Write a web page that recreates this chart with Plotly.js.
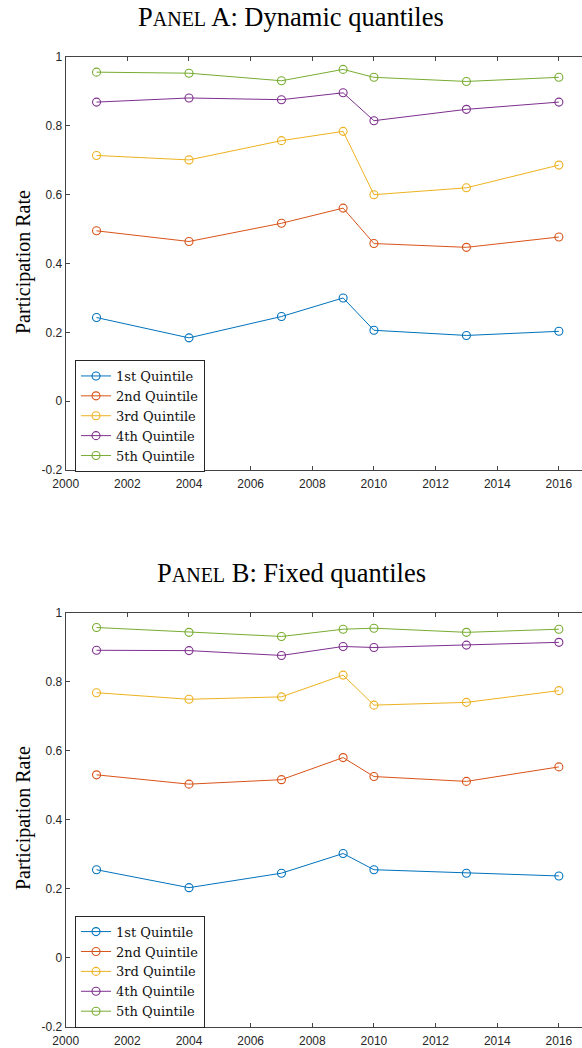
<!DOCTYPE html>
<html>
<head>
<meta charset="utf-8">
<script src="https://cdn.plot.ly/plotly-3.0.1.min.js"></script>
<style>html,body{margin:0;padding:0;background:#fff;}#chart{width:582px;height:1048px;}</style>
</head>
<body>
<div id="chart"></div>
<script>
const years = [2001, 2004, 2007, 2009, 2010, 2013, 2016];
const seriesNames = ["1st Quintile", "2nd Quintile", "3rd Quintile", "4th Quintile", "5th Quintile"];
const colors = ["#0072BD", "#D95319", "#EDB120", "#7E2F8E", "#77AC30"];

// Panel A: Dynamic quantiles
const dynQ1 = [0.243, 0.184, 0.246, 0.300, 0.206, 0.191, 0.203];
const dynQ2 = [0.495, 0.464, 0.517, 0.561, 0.458, 0.447, 0.477];
const dynQ3 = [0.714, 0.701, 0.757, 0.784, 0.600, 0.620, 0.686];
const dynQ4 = [0.869, 0.881, 0.876, 0.896, 0.815, 0.848, 0.869];
const dynQ5 = [0.956, 0.953, 0.931, 0.964, 0.941, 0.929, 0.941];

// Panel B: Fixed quantiles
const fixQ1 = [0.255, 0.203, 0.245, 0.302, 0.255, 0.245, 0.237];
const fixQ2 = [0.530, 0.503, 0.516, 0.580, 0.525, 0.511, 0.553];
const fixQ3 = [0.768, 0.749, 0.756, 0.819, 0.732, 0.740, 0.774];
const fixQ4 = [0.891, 0.890, 0.876, 0.902, 0.899, 0.906, 0.914];
const fixQ5 = [0.957, 0.943, 0.931, 0.952, 0.955, 0.943, 0.952];

const yTickVals = [-0.2, 0, 0.2, 0.4, 0.6, 0.8, 1];
const yTickText = ["-0.2", "0", "0.2", "0.4", "0.6", "0.8", "1"];
const xTickVals = [2000, 2002, 2004, 2006, 2008, 2010, 2012, 2014, 2016];

const dynamic = [dynQ1, dynQ2, dynQ3, dynQ4, dynQ5];
const fixed = [fixQ1, fixQ2, fixQ3, fixQ4, fixQ5];

const traces = [];
function addPanel(data, xa, ya, legend) {
  data.forEach((vals, i) => {
    traces.push({
      x: years, y: vals, xaxis: xa, yaxis: ya, legend: legend,
      type: "scatter", mode: "lines+markers", name: seriesNames[i],
      line: {color: colors[i], width: 1},
      marker: {symbol: "circle-open", size: 8, color: colors[i], line: {width: 1.1, color: colors[i]}}
    });
  });
}
addPanel(dynamic, "x", "y", "legend");
addPanel(fixed, "x2", "y2", "legend2");

const axisColor = "#444444";
const tickFont = {family: "Liberation Sans, Arial, sans-serif", size: 12, color: "#262626"};
function xAxis(anchor) {
  return {
    anchor: anchor, domain: [0.1129, 1.0], range: [2000, 2016.75],
    tickvals: xTickVals, ticks: "inside", ticklen: 4, tickcolor: axisColor,
    showline: true, linecolor: axisColor, linewidth: 1, mirror: "allticks",
    showgrid: false, zeroline: false, tickfont: tickFont, ticklabelstandoff: 3
  };
}
function yAxis(anchor, dom) {
  return {
    anchor: anchor, domain: dom, range: [-0.2, 1],
    tickvals: yTickVals, ticktext: yTickText, ticks: "inside", ticklen: 4, tickcolor: axisColor,
    showline: true, linecolor: axisColor, linewidth: 1, mirror: false,
    showgrid: false, zeroline: false, tickfont: tickFont
  };
}
const serif = "Liberation Serif, serif";
const legendStyle = (y) => ({
  x: 0.1289, y: y, xanchor: "left", yanchor: "top",
  bgcolor: "#ffffff", bordercolor: "#262626", borderwidth: 1,
  font: {family: "DejaVu Serif, serif", size: 13, color: "#111"}, tracegroupgap: 0
});

const layout = {
  width: 582, height: 1048,
  margin: {l: 0, r: 0, t: 0, b: 0},
  paper_bgcolor: "#ffffff", plot_bgcolor: "#ffffff",
  showlegend: true,
  xaxis: xAxis("y"),
  yaxis: yAxis("x", [0.5515, 0.9456]),
  xaxis2: xAxis("y2"),
  yaxis2: yAxis("x2", [0.0203, 0.4154]),
  legend: legendStyle(0.6565),
  legend2: legendStyle(0.1263),
  annotations: [
    {text: "P<span style=\"font-size:20px\">ANEL</span> A: Dynamic quantiles", x: 0.5, y: 0.9838, xref: "paper", yref: "paper",
     xanchor: "center", yanchor: "middle", showarrow: false, font: {family: serif, size: 26.5, color: "#000"}},
    {text: "P<span style=\"font-size:20px\">ANEL</span> B: Fixed quantiles", x: 0.5, y: 0.4532, xref: "paper", yref: "paper",
     xanchor: "center", yanchor: "middle", showarrow: false, font: {family: serif, size: 26.5, color: "#000"}},
    {text: "Participation Rate", x: 23/582, y: 1 - 262/1048, xref: "paper", yref: "paper",
     xanchor: "center", yanchor: "middle", textangle: -90, showarrow: false, font: {family: serif, size: 20, color: "#000"}},
    {text: "Participation Rate", x: 23/582, y: 1 - 818/1048, xref: "paper", yref: "paper",
     xanchor: "center", yanchor: "middle", textangle: -90, showarrow: false, font: {family: serif, size: 20, color: "#000"}}
  ]
};

Plotly.newPlot("chart", traces, layout, {staticPlot: true, displayModeBar: false});
</script>
</body>
</html>
